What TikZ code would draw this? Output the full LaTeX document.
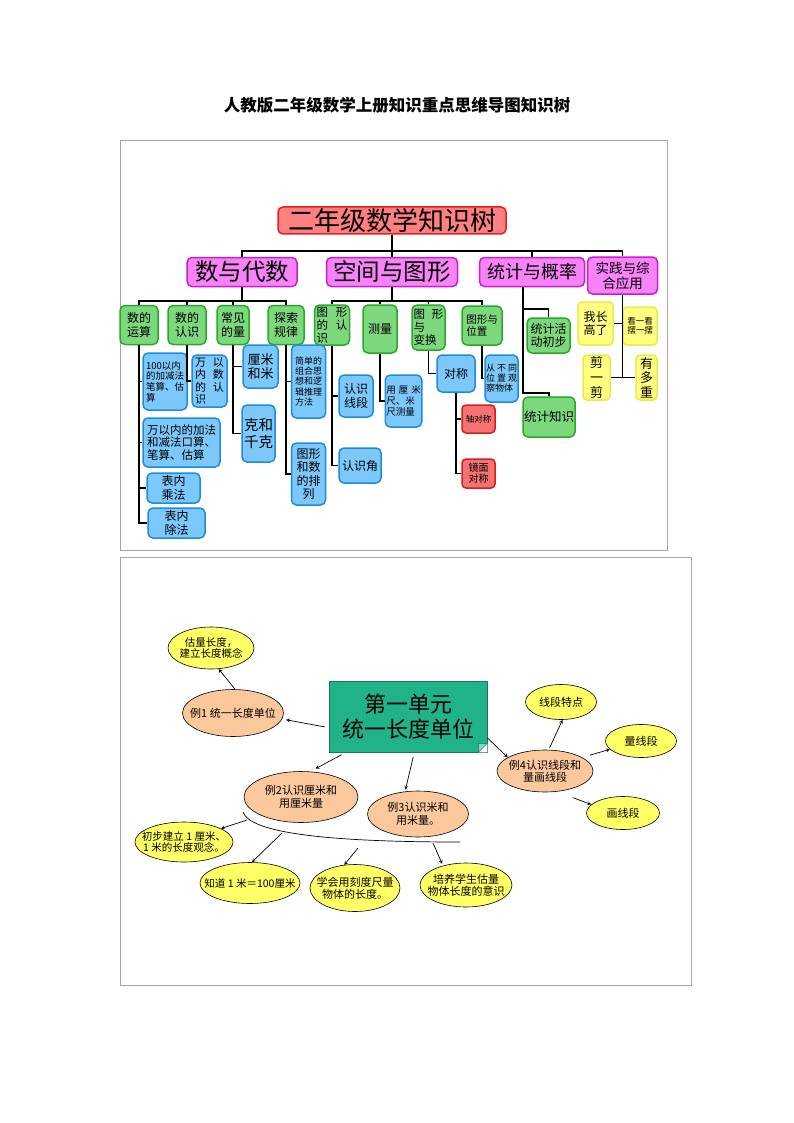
\documentclass[tikz,border=0pt]{standalone}
\usepackage{fontspec}
\setmainfont{Noto Sans CJK SC}
\usetikzlibrary{shapes.geometric, arrows}
\definecolor{rootfill}{RGB}{255,128,128}
\definecolor{rootline}{RGB}{228,32,32}
\definecolor{pinkfill}{RGB}{248,130,248}
\definecolor{pinkline}{RGB}{200,30,200}
\definecolor{greenfill}{RGB}{125,215,125}
\definecolor{greenline}{RGB}{40,170,40}
\definecolor{bluefill}{RGB}{125,200,250}
\definecolor{blueline}{RGB}{30,140,222}
\definecolor{redfill}{RGB}{245,115,115}
\definecolor{redline}{RGB}{215,30,30}
\definecolor{yelfill}{RGB}{255,255,130}
\definecolor{yelline}{RGB}{235,235,70}
\definecolor{unitfill}{RGB}{32,178,137}
\definecolor{unitline}{RGB}{20,120,90}
\definecolor{peach}{RGB}{250,200,155}
\definecolor{lemon}{RGB}{255,255,102}
\newcommand{\fsz}[1]{\fontsize{#1}{\fpeval{1.12*#1}}\selectfont}
\tikzstyle{root} = [rectangle, rounded corners=5pt, draw=rootline, fill=rootfill, line width=1.5pt, inner sep=1pt]
\tikzstyle{level1} = [rectangle, rounded corners=5pt, draw=pinkline, fill=pinkfill, line width=1.5pt, inner sep=1pt, align=center]
\tikzstyle{level2} = [rectangle, rounded corners=5pt, draw=greenline, fill=greenfill, line width=1.5pt, inner sep=1pt, align=center, font=\fsz{12}]
\tikzstyle{level3} = [rectangle, rounded corners=5pt, draw=blueline, fill=bluefill, line width=1.5pt, inner sep=1pt, align=center, font=\fsz{12}]
\tikzstyle{level3r} = [rectangle, rounded corners=4pt, draw=redline, fill=redfill, line width=1.5pt, inner sep=1pt, align=center, font=\fsz{12}]
\tikzstyle{level3y} = [rectangle, rounded corners=4pt, draw=yelline, fill=yelfill, line width=1.5pt, inner sep=1pt, align=center, font=\fsz{12}]
\tikzstyle{branch} = [line width=1.8pt, black]
\tikzstyle{panel} = [draw=black!35, line width=0.8pt]
\tikzstyle{unitbox} = [rectangle, draw=unitline, fill=unitfill, line width=0.6pt, inner sep=1pt]
\tikzstyle{topic} = [ellipse, draw=black, fill=peach, line width=0.6pt, inner xsep=-14pt, inner ysep=0pt, align=center, font=\fsz{11}]
\tikzstyle{leaf} = [ellipse, draw=black, fill=lemon, line width=0.6pt, inner xsep=-14pt, inner ysep=0pt, align=center, font=\fsz{11}]
\tikzstyle{arrow} = [->, >=stealth, line width=0.7pt]

\begin{document}
\begin{tikzpicture}[x=1pt, y=-1pt]
		\useasboundingbox (0,0) rectangle (794,1123);
		\node (title) at (397,105) [font=\fsz{16.5}\bfseries] {人教版二年级数学上册知识重点思维导图知识树};
		\draw [panel] (120,140) rectangle (667,550);
		\draw [panel] (120,557) rectangle (691,985);

		\node (root) [root, minimum width=228, minimum height=27, font=\fsz{26}] at (392,220.5) {二年级数学知识树};
		\node (sdds) [level1, minimum width=110, minimum height=29, font=\fsz{23.5}] at (242,272) {数与代数};
		\node (kjtx) [level1, minimum width=131, minimum height=29, font=\fsz{23.5}] at (392,272) {空间与图形};
		\node (tjgl) [level1, minimum width=105, minimum height=29, font=\fsz{18}] at (532,272) {统计与概率};
		\node (sjzh) [level1, minimum width=70, minimum height=37, font=\fsz{13.5}] at (622.5,275.5) {实践与综\\合应用};

		\node (ysys) [level2, minimum width=38, minimum height=39] at (139,325) {数的\\运算};
		\node (shrs) [level2, minimum width=38, minimum height=39] at (187,325) {数的\\认识};
		\node (cjl) [level2, minimum width=32, minimum height=39] at (233,325) {常见\\的量};
		\node (tsgl) [level2, minimum width=36, minimum height=39] at (286,325) {探索\\规律};
		\node (txrs) [level2, minimum width=35, minimum height=40, font=\fsz{11.5}, align=left] at (332,325) {图\hspace{8pt}形\\的\hspace{8pt}认\\识};
		\node (cl) [level2, minimum width=34, minimum height=48] at (380,329) {测量};
		\node (txbh) [level2, minimum width=33, minimum height=45, font=\fsz{11.5}, align=left] at (428.5,327.5) {图\hspace{7pt}形\\与\\变换};
		\node (txwz) [level2, minimum width=40, minimum height=39, font=\fsz{10.5}, align=left] at (482,325.5) {图形与\\位置};
		\node (tjhd) [level2, minimum width=43, minimum height=35] at (548.5,335.5) {统计活\\动初步};
		\node (tjzs) [level2, minimum width=52, minimum height=40, font=\fsz{12.5}] at (549,417) {统计知识};

		\node (c100) [level3, minimum width=44, minimum height=57, font=\fsz{9.5}, align=left] at (165,381.5) {100以内\\的加减法\\笔算、估\\算};
		\node (cwan) [level3, minimum width=77, minimum height=49, font=\fsz{11.5}, align=left] at (181.5,442.5) {万以内的加法\\和减法口算、\\笔算、估算};
		\node (cmul) [level3, minimum width=53, minimum height=30] at (173.5,488) {表内\\乘法};
		\node (cdiv) [level3, minimum width=57, minimum height=30] at (176.5,523) {表内\\除法};
		\node (cwrs) [level3, minimum width=35, minimum height=52, font=\fsz{11}, align=left] at (209.5,381) {万\hspace{7pt}以\\内\hspace{7pt}数\\的\hspace{7pt}认\\识};
		\node (clm) [level3, minimum width=35, minimum height=43, font=\fsz{13}] at (260.5,366.5) {厘米\\和米};
		\node (ckq) [level3, minimum width=33, minimum height=57, font=\fsz{14.5}] at (258.5,433.5) {克和\\千克};
		\node (cjd) [level3, minimum width=34, minimum height=73, font=\fsz{9}, align=left] at (308.5,381.5) {简单的\\组合思\\想和逻\\辑推理\\方法};
		\node (ctx) [level3, minimum width=34, minimum height=62] at (308.5,474) {图形\\和数\\的排\\列};
		\node (rsxd) [level3, minimum width=34, minimum height=42] at (356,396) {认识\\线段};
		\node (rsj) [level3, minimum width=42, minimum height=35] at (360,465.5) {认识角};
		\node (ycm) [level3, minimum width=33, minimum height=52, font=\fsz{9.5}, align=left] at (403.5,401) {用\hspace{3pt}厘\hspace{3pt}米\\尺、米\\尺测量};
		\node (dc) [level3, minimum width=38, minimum height=37] at (456,373.5) {对称};
		\node (cbt) [level3, minimum width=33, minimum height=47, font=\fsz{9}, align=left] at (501.5,378.5) {从\hspace{2pt}不\hspace{2pt}同\\位\hspace{2pt}置\hspace{2pt}观\\察物体};
		\node (zdc) [level3r, minimum width=33, minimum height=28, font=\fsz{8.5}] at (478.5,419) {轴对称};
		\node (jmdc) [level3r, minimum width=33, minimum height=29, font=\fsz{10}, align=left] at (478.5,473.5) {镜面\\对称};
		\node (wzgl) [level3y, minimum width=35, minimum height=43] at (595.5,323.5) {我长\\高了};
		\node (kkbb) [level3y, minimum width=34, minimum height=38, font=\fsz{8.5}] at (640,326) {看一看\\摆一摆};
		\node (jyj) [level3y, minimum width=27, minimum height=45, font=\fsz{13}] at (596.5,377.5) {剪\\一\\剪};
		\node (ydz) [level3y, minimum width=21, minimum height=45, font=\fsz{13}] at (646.5,377.5) {有\\多\\重};

		\draw [branch] (root.south) -- +(0,16) -| (sdds.north);
		\draw [branch] (root.south) -- +(0,16) -| (kjtx.north);
		\draw [branch] (root.south) -- +(0,16) -| (tjgl.north);
		\draw [branch] (root.south) -- +(0,16) -| (sjzh.north);
		\draw [branch] (sdds.south) -- +(0,13.5) -| (ysys.north);
		\draw [branch] (sdds.south) -- +(0,13.5) -| (shrs.north);
		\draw [branch] (sdds.south) -- +(0,13.5) -| (cjl.north);
		\draw [branch] (sdds.south) -- +(0,13.5) -| (tsgl.north);
		\draw [branch] (kjtx.south) -- +(0,13.5) -| (txrs.north);
		\draw [branch] (kjtx.south) -- +(0,13.5) -| (cl.north);
		\draw [branch] (kjtx.south) -- +(0,13.5) -| (txbh.north);
		\draw [branch] (kjtx.south) -- +(0,13.5) -| (txwz.north);
		\draw [branch] ([xshift=-9pt]tjgl.south) -- +(0,22) -| (tjhd.north);
		\draw [branch] ([xshift=-9pt]tjgl.south) -- +(0,106) -| (tjzs.north);
		\draw [branch] (ysys.south) |- (c100.west);
		\draw [branch] (ysys.south) |- (cwan.west);
		\draw [branch] (ysys.south) |- (cmul.west);
		\draw [branch] (ysys.south) |- (cdiv.west);
		\draw [branch] (shrs.south) |- (cwrs.west);
		\draw [branch] (cjl.south) |- (clm.west);
		\draw [branch] (cjl.south) |- (ckq.west);
		\draw [branch] (tsgl.south) |- (cjd.west);
		\draw [branch] (tsgl.south) |- (ctx.west);
		\draw [branch] (txrs.south) |- (rsxd.west);
		\draw [branch] (txrs.south) |- (rsj.west);
		\draw [branch] (cl.south) |- (ycm.west);
		\draw [branch] (txbh.south) |- (dc.west);
		\draw [branch] (dc.south) |- (zdc.west);
		\draw [branch] (dc.south) |- (jmdc.west);
		\draw [branch] (txwz.south) |- (cbt.west);
		\draw [branch] (sjzh.south) |- (wzgl.east);
		\draw [branch] (sjzh.south) |- (kkbb.west);
		\draw [branch] (sjzh.south) |- (jyj.east);
		\draw [branch] (sjzh.south) |- (ydz.west);

		\node (main) [unitbox, minimum width=158, minimum height=71, font=\fsz{22}, align=center] at (408,716.5) {第一单元\\统一长度单位};
		\fill [white] (main.south east) -- ([xshift=-9pt]main.south east) -- ([yshift=9pt]main.south east) -- cycle;
		\filldraw [fill=unitfill!55, draw=unitline, line width=0.5pt] ([xshift=-9pt]main.south east) -- ([yshift=9pt]main.south east) -- ([xshift=-9pt, yshift=9pt]main.south east) -- cycle;
		\node (gl) [leaf, minimum width=86, minimum height=42, font=\fsz{10.5}] at (211,648) {估量长度，\\建立长度概念};
		\node (l1) [topic, minimum width=101, minimum height=47] at (233,713) {例1 统一长度单位};
		\node (l2) [topic, minimum width=114, minimum height=51] at (301,797) {例2认识厘米和\\用厘米量};
		\node (l3) [topic, minimum width=101, minimum height=46] at (418,814) {例3认识米和\\用米量。};
		\node (l4) [topic, minimum width=96, minimum height=42] at (545,771) {例4认识线段和\\量画线段};
		\node (xdtd) [leaf, minimum width=71, minimum height=35] at (561,702) {线段特点};
		\node (lxd) [leaf, minimum width=71, minimum height=33] at (641,741) {量线段};
		\node (hxd) [leaf, minimum width=73, minimum height=33] at (623,813) {画线段};
		\node (cbjl) [leaf, minimum width=98, minimum height=40, font=\fsz{10.5}] at (184,842) {初步建立 1 厘米、\\1 米的长度观念。};
		\node (zd) [leaf, minimum width=100, minimum height=41, font=\fsz{10.5}] at (250,883) {知道 1 米＝100厘米};
		\node (xh) [leaf, minimum width=90, minimum height=47] at (355,888) {学会用刻度尺量\\物体的长度。};
		\node (py) [leaf, minimum width=92, minimum height=44] at (466,885) {培养学生估量\\物体长度的意识};

		\draw [line width=0.7pt] (243,812) .. controls (250,832) and (320,842) .. (460,842);
		\coordinate (a1) at (247,820);
		\coordinate (a2) at (282,833);
		\coordinate (a3) at (358,848);
		\coordinate (a4) at (433,843);

		\draw [arrow, shorten <=4pt, shorten >=4pt] (main.188) -- (l1.-7);
		\draw [arrow] (l1.85) -- (gl.-70);
		\draw [arrow, shorten <=5pt, shorten >=6pt] (main.-150) -- (l2.70);
		\draw [arrow, shorten <=5pt, shorten >=2pt] (main.-80) -- (l3.120);
		\draw [arrow] (main.-15) -- (l4.160);
		\draw [arrow, shorten <=2pt] (l4.80) -- (xdtd.-85);
		\draw [arrow, shorten <=8pt] (l4.20) -- (lxd.-165);
		\draw [arrow, shorten <=17pt] (l4.-60) -- (hxd.165);
		\draw [arrow] (a1) -- (cbjl.20);
		\draw [arrow] (a2) -- (zd.85);
		\draw [arrow] (a3) -- (xh.115);
		\draw [arrow, shorten >=2pt] (a4) -- (py.140);
	\end{tikzpicture}
\end{document}
